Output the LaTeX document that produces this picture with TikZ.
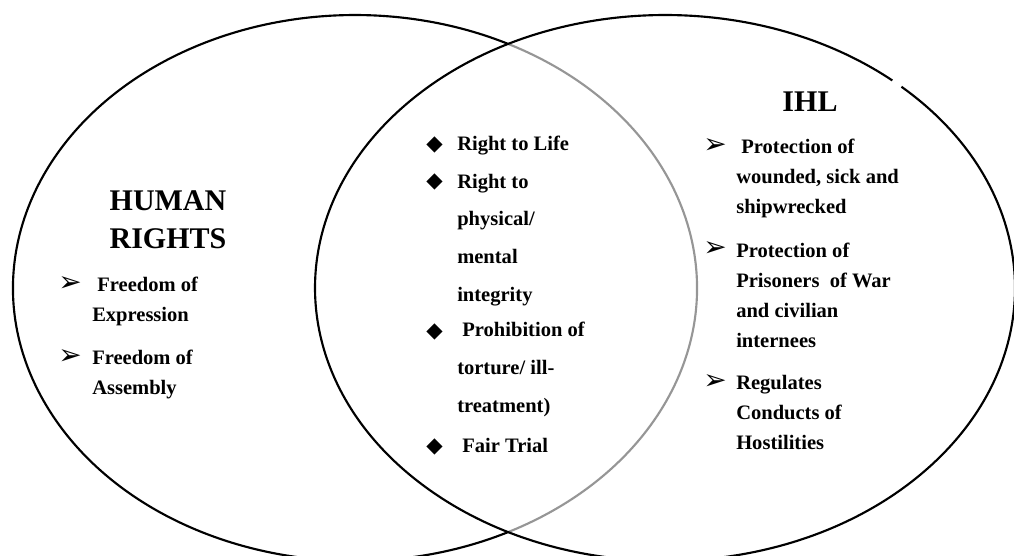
\documentclass[tikz,border=0pt]{standalone}
\usepackage{fontspec}
\setmainfont{Liberation Serif}
\newfontfamily\dejavu{DejaVu Sans}
\usepackage{tikz}
\usetikzlibrary{calc}
\definecolor{Arcgray}{RGB}{150,150,150}
\newcommand{\arrowbul}{{\dejavu\fontsize{21}{21}\selectfont\char"27A2}}
\newcommand{\diambul}{{\dejavu\fontsize{16}{16}\selectfont\char"25C6}}
\tikzset{
  ring/.style={line width=1.6pt,black},
  title/.style={font=\fontsize{22.5}{28.5}\selectfont\bfseries,align=center,inner sep=0pt},
  sideitem/.style={font=\fontsize{15.4}{22.5}\selectfont\bfseries,align=left,anchor=base west,inner sep=0pt},
  miditem/.style={font=\fontsize{15.4}{28.2}\selectfont\bfseries,align=left,anchor=base west,inner sep=0pt},
  bul/.style={anchor=base west,inner sep=0pt}
}
\begin{document}
\begin{tikzpicture}[x=0.75pt,y=-0.75pt]
          \useasboundingbox (0,0) rectangle (1014,556);
          % the two circles
          \draw[ring] (355,288) ++(63.4:342 and 273) arc[start angle=63.4,end angle=296.6,x radius=342,y radius=273];
          \draw[ring,Arcgray] (355,288) ++(-63.4:342 and 273) arc[start angle=-63.4,end angle=63.4,x radius=342,y radius=273];
          \draw[ring] (665,288) ++(-47.5:350 and 273) arc[start angle=-47.5,end angle=310.5,x radius=350,y radius=273];
          % human rights (a node sits on the baseline of its last line)
          \node[title,anchor=base] (HR) at (168,248) {HUMAN\\RIGHTS};
          \node[bul] (bL1) at (58,291) {\arrowbul};\node[sideitem] (L1) at (92,321) {\ Freedom of\\Expression};
          \node[bul] (bL2) at (58,364) {\arrowbul};\node[sideitem] (L2) at (92,394) {Freedom of\\Assembly};
          % common core
          \node[bul] (bC1) at (426,151) {\diambul};\node[miditem] (C1) at (457,151) {Right to Life};
          \node[bul] (bC2) at (426,188) {\diambul};\node[miditem] (C2) at (457,301) {Right to\\physical/\\mental\\integrity};
          \node[bul] (bC3) at (426,337) {\diambul};\node[miditem] (C3) at (457,412) {\ Prohibition of\\torture/ ill-\\treatment)};
          \node[bul] (bC4) at (426,452) {\diambul};\node[miditem] (C4) at (457,452) {\ Fair Trial};
          % ihl
          \node[title,anchor=base] (IHL) at (810,112) {IHL};
          \node[bul] (bR1) at (703,154) {\arrowbul};\node[sideitem] (R1) at (736,214) {\ Protection of\\wounded, sick and\\shipwrecked};
          \node[bul] (bR2) at (703,257) {\arrowbul};\node[sideitem] (R2) at (736,347) {Protection of\\Prisoners\ \ of War\\and civilian\\internees};
          \node[bul] (bR3) at (703,389) {\arrowbul};\node[sideitem] (R3) at (736,449) {Regulates\\Conducts of\\Hostilities};
\end{tikzpicture}
\end{document}
